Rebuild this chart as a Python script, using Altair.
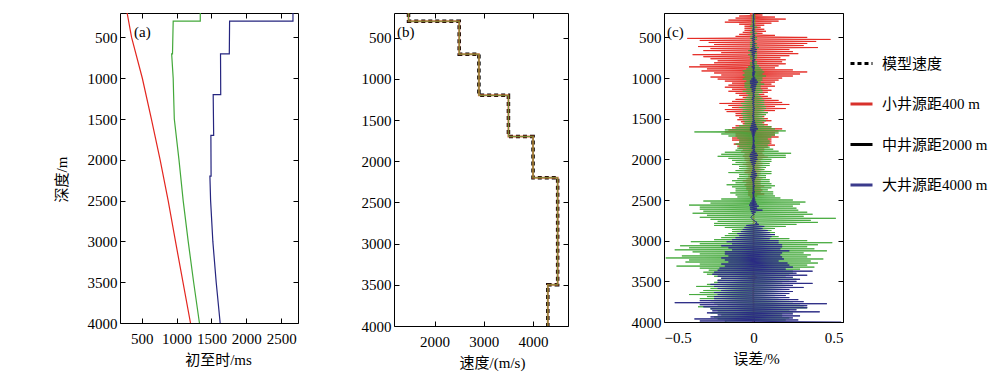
import altair as alt
import pandas as pd

FONT = "Liberation Serif, Times New Roman, DejaVu Serif, Noto Sans CJK SC"
FS = 15

# ---------------- panel (a): first-arrival times ----------------
a_red_depth = [200, 500, 1000, 1500, 2000, 2500, 3000, 3500, 4000]
a_red_time = [292, 356, 510, 640, 765, 880, 985, 1092, 1200]

a_green_depth = [200, 300, 300, 700, 700, 1000, 1200, 1500, 2000, 2500, 3000, 3500, 4000]
a_green_time = [1340, 1340, 952, 942, 930, 952, 958, 968, 1035, 1095, 1167, 1245, 1328]

a_blue_depth = [200, 300, 300, 700, 700, 1200, 1200, 1700, 1700, 2200, 2200, 2500, 3000, 3500, 4000]
a_blue_time = [2668, 2668, 1760, 1756, 1630, 1633, 1525, 1532, 1492, 1495, 1478, 1488, 1520, 1568, 1625]

# ---------------- panel (b): velocity model ----------------
b_top = [200, 300, 700, 1200, 1700, 2200, 3500]
b_bot = [300, 700, 1200, 1700, 2200, 3500, 4000]
b_vel = [1470, 2500, 2900, 3500, 4000, 4500, 4300]

# ---------------- panel (c): relative error (%) every 12.5 m ----------------
c_depth_start, c_depth_step = 200, 12.5
c_red = [
    0.00, -0.02, 0.05, -0.08, 0.12, -0.10, 0.18, -0.14,       # 200
    0.14, -0.16, 0.10, -0.08, 0.06, -0.05, 0.04, -0.05,       # 300
    0.06, -0.05, 0.07, -0.06, 0.05, -0.08, 0.12, -0.10,       # 400
    0.30, -0.37, 0.43, -0.30, 0.35, -0.25, 0.30, -0.22,       # 500
    0.28, -0.31, 0.36, -0.24, 0.20, -0.28, 0.22, -0.18,       # 600
    0.25, -0.34, 0.20, -0.28, 0.15, -0.24, 0.18, -0.20,       # 700
    0.16, -0.22, 0.18, -0.30, 0.14, -0.36, 0.12, -0.26,       # 800
    0.22, -0.29, 0.30, -0.22, 0.26, -0.18, 0.22, -0.24,       # 900
    0.16, -0.20, 0.14, -0.16, 0.12, -0.12, 0.10, -0.14,       # 1000
    0.12, -0.16, 0.08, -0.12, 0.10, -0.14, 0.08, -0.10,       # 1100
    0.06, -0.08, 0.08, -0.06, 0.10, -0.10, 0.14, -0.12,       # 1200
    0.16, -0.19, 0.20, -0.14, 0.12, -0.12, 0.18, -0.16,       # 1300
    0.12, -0.15, 0.08, -0.10, 0.06, -0.10, 0.06, -0.08,       # 1400
    0.08, -0.09, 0.10, -0.07, 0.06, -0.06, 0.08, -0.10,       # 1500
    0.10, -0.12, 0.16, -0.14, 0.14, -0.16, 0.12, -0.10,       # 1600
    0.12, -0.10, 0.14, -0.12, 0.10, -0.12, 0.10, -0.08,       # 1700
    0.10, -0.11, 0.12, -0.09, 0.08, -0.08, 0.06, -0.06,       # 1800
    0.06, -0.07, 0.05, -0.05, 0.06, -0.06, 0.08, -0.05,       # 1900
    0.05, -0.05, 0.04, -0.04, 0.05, -0.06, 0.05, -0.04,       # 2000
    0.04, -0.04, 0.06, -0.05, 0.04, -0.05, 0.04, -0.03,       # 2100
    0.03, -0.03, 0.05, -0.04, 0.04, -0.06, 0.04, -0.04,       # 2200
    0.04, -0.05, 0.06, -0.04, 0.04, -0.04, 0.05, -0.03,       # 2300
    0.04, -0.03, 0.06, -0.03, 0.02, -0.02, 0.01, -0.01,       # 2400
    0.005, -0.005, 0.005, -0.005, 0.005, -0.005, 0.005, -0.005,  # 2500
    0.005, -0.005, 0.005, -0.005, 0.005, -0.005, 0.005, -0.005,  # 2600
    0.005, -0.005, 0.005, -0.005, 0.005, -0.005, 0.005, -0.005,  # 2700
    0.005, -0.005, 0.005, -0.005, 0.005, -0.005, 0.005, -0.005,  # 2800
    0.005, -0.005, 0.005, -0.005, 0.005, -0.005, 0.005, -0.005,  # 2900
    0.005, -0.005, 0.005, -0.005, 0.005, -0.005, 0.005, -0.005,  # 3000
    0.005, -0.005, 0.005, -0.005, 0.005, -0.005, 0.005, -0.005,  # 3100
    0.005, -0.005, 0.005, -0.005, 0.005, -0.005, 0.005, -0.005,  # 3200
    0.005, -0.005, 0.005, -0.005, 0.005, -0.005, 0.005, -0.005,  # 3300
    0.005, -0.005, 0.01, -0.01, 0.02, -0.03, 0.01, -0.005,       # 3400
    0.005, -0.005, 0.005, -0.005, 0.005, -0.005, 0.005, -0.005,  # 3500
    0.005, -0.005, 0.005, -0.005, 0.005, -0.005, 0.005, -0.005,  # 3600
    0.005, -0.005, 0.005, -0.005, 0.005, -0.005, 0.005, -0.005,  # 3700
    0.005, -0.005, 0.005, -0.005, 0.005, -0.005, 0.005, -0.005,  # 3800
    0.005, -0.005, 0.005, -0.005, 0.005, -0.005, 0.005, -0.005,  # 3900
    0.00,                                                        # 4000
]
c_green = [
    0.00, -0.005, 0.01, -0.01, 0.01, -0.01, 0.01, -0.01,      # 200
    0.01, -0.01, 0.01, -0.01, 0.01, -0.02, 0.02, -0.01,       # 300
    0.01, -0.01, 0.01, -0.02, 0.02, -0.01, 0.01, -0.02,       # 400
    0.02, -0.02, 0.02, -0.01, 0.01, -0.02, 0.02, -0.02,       # 500
    0.02, -0.02, 0.03, -0.02, 0.02, -0.03, 0.02, -0.02,       # 600
    0.02, -0.03, 0.02, -0.02, 0.02, -0.02, 0.01, -0.01,       # 700
    0.02, -0.02, 0.02, -0.02, 0.03, -0.03, 0.04, -0.04,       # 800
    0.05, -0.06, 0.06, -0.05, 0.05, -0.06, 0.07, -0.05,       # 900
    0.05, -0.06, 0.05, -0.04, 0.04, -0.05, 0.06, -0.05,       # 1000
    0.04, -0.05, 0.04, -0.04, 0.05, -0.06, 0.05, -0.04,       # 1100
    0.03, -0.03, 0.04, -0.04, 0.05, -0.05, 0.06, -0.05,       # 1200
    0.06, -0.07, 0.06, -0.06, 0.07, -0.08, 0.07, -0.06,       # 1300
    0.06, -0.06, 0.08, -0.07, 0.07, -0.06, 0.05, -0.06,       # 1400
    0.06, -0.06, 0.07, -0.05, 0.05, -0.05, 0.06, -0.08,       # 1500
    0.10, -0.10, 0.12, -0.16, 0.18, -0.33, 0.14, -0.18,       # 1600
    0.12, -0.14, 0.10, -0.09, 0.08, -0.08, 0.09, -0.08,       # 1700
    0.09, -0.10, 0.08, -0.08, 0.09, -0.09, 0.11, -0.10,       # 1800
    0.14, -0.16, 0.21, -0.18, 0.18, -0.20, 0.18, -0.14,       # 1900
    0.10, -0.12, 0.10, -0.10, 0.09, -0.12, 0.09, -0.08,       # 2000
    0.07, -0.08, 0.06, -0.10, 0.10, -0.14, 0.10, -0.08,       # 2100
    0.07, -0.08, 0.07, -0.09, 0.09, -0.12, 0.09, -0.10,       # 2200
    0.10, -0.15, 0.12, -0.12, 0.10, -0.10, 0.08, -0.10,       # 2300
    0.11, -0.13, 0.11, -0.10, 0.12, -0.09, 0.15, -0.18,       # 2400
    0.22, -0.28, 0.29, -0.24, 0.26, -0.36, 0.22, -0.30,       # 2500
    0.24, -0.30, 0.25, -0.28, 0.30, -0.34, 0.33, -0.26,       # 2600
    0.28, -0.30, 0.46, -0.24, 0.32, -0.20, 0.36, -0.22,       # 2700
    0.24, -0.22, 0.18, -0.16, 0.12, -0.12, 0.10, -0.12,       # 2800
    0.12, -0.14, 0.12, -0.16, 0.14, -0.18, 0.20, -0.22,       # 2900
    0.30, -0.35, 0.44, -0.30, 0.36, -0.41, 0.30, -0.36,       # 3000
    0.34, -0.44, 0.41, -0.34, 0.28, -0.30, 0.32, -0.40,       # 3100
    0.30, -0.49, 0.39, -0.36, 0.32, -0.38, 0.36, -0.30,       # 3200
    0.30, -0.43, 0.34, -0.30, 0.26, -0.25, 0.22, -0.28,       # 3300
    0.22, -0.26, 0.20, -0.22, 0.18, -0.18, 0.24, -0.20,       # 3400
    0.20, -0.22, 0.16, -0.26, 0.20, -0.32, 0.18, -0.24,       # 3500
    0.16, -0.28, 0.14, -0.30, 0.16, -0.36, 0.12, -0.26,       # 3600
    0.14, -0.30, 0.20, -0.24, 0.22, -0.22, 0.26, -0.20,       # 3700
    0.28, -0.31, 0.30, -0.24, 0.20, -0.20, 0.22, -0.24,       # 3800
    0.16, -0.18, 0.16, -0.22, 0.20, -0.20, 0.18, -0.16,       # 3900
    -0.15,                                                    # 4000
]
c_blue = [
    0.00, -0.003, 0.003, -0.003, 0.003, -0.003, 0.005, -0.003,   # 200
    0.003, -0.005, 0.003, -0.003, 0.005, -0.005, 0.005, -0.003,  # 300
    0.005, -0.008, 0.005, -0.005, 0.005, -0.005, 0.008, -0.005,  # 400
    0.008, -0.01, 0.008, -0.008, 0.005, -0.005, 0.01, -0.008,    # 500
    0.008, -0.008, 0.01, -0.012, 0.018, -0.02, 0.015, -0.01,     # 600
    0.008, -0.01, 0.008, -0.005, 0.005, -0.005, 0.01, -0.008,    # 700
    0.005, -0.008, 0.005, -0.005, 0.008, -0.01, 0.008, -0.005,   # 800
    0.005, -0.005, 0.01, -0.008, 0.008, -0.008, 0.005, -0.005,   # 900
    0.01, -0.012, 0.018, -0.02, 0.025, -0.02, 0.018, -0.015,     # 1000
    0.015, -0.018, 0.012, -0.01, 0.01, -0.01, 0.008, -0.005,     # 1100
    0.005, -0.005, 0.008, -0.008, 0.005, -0.01, 0.005, -0.005,   # 1200
    0.005, -0.008, 0.005, -0.005, 0.005, -0.005, 0.008, -0.005,  # 1300
    0.005, -0.005, 0.005, -0.005, 0.005, -0.008, 0.005, -0.005,  # 1400
    0.005, -0.005, 0.008, -0.008, 0.01, -0.012, 0.015, -0.015,   # 1500
    0.018, -0.02, 0.025, -0.02, 0.015, -0.012, 0.01, -0.01,      # 1600
    0.008, -0.008, 0.005, -0.005, 0.005, -0.005, 0.008, -0.005,  # 1700
    0.005, -0.005, 0.008, -0.008, 0.01, -0.01, 0.008, -0.005,    # 1800
    0.01, -0.012, 0.018, -0.02, 0.025, -0.022, 0.02, -0.018,     # 1900
    0.022, -0.02, 0.015, -0.015, 0.012, -0.01, 0.008, -0.005,    # 2000
    0.005, -0.005, 0.008, -0.008, 0.012, -0.012, 0.018, -0.012,  # 2100
    0.02, -0.018, 0.012, -0.01, 0.008, -0.008, 0.005, -0.005,    # 2200
    0.005, -0.005, 0.008, -0.005, 0.005, -0.005, 0.005, -0.005,  # 2300
    0.008, -0.008, 0.005, -0.005, 0.005, -0.005, 0.008, -0.008,  # 2400
    0.01, -0.012, 0.015, -0.02, 0.02, -0.025, 0.03, -0.02,       # 2500
    0.02, -0.02, 0.05, -0.015, 0.012, -0.01, 0.005, -0.005,      # 2600
    -0.01, -0.015, -0.01, -0.005, 0.00, 0.01, 0.02, 0.01,        # 2700
    0.03, -0.04, 0.06, -0.05, 0.05, -0.06, 0.08, -0.07,          # 2800
    0.09, -0.09, 0.12, -0.08, 0.10, -0.10, 0.09, -0.12,          # 2900
    0.14, -0.15, 0.14, -0.12, 0.16, -0.18, 0.16, -0.14,          # 3000
    0.15, -0.12, 0.20, -0.16, 0.16, -0.16, 0.15, -0.14,          # 3100
    0.16, -0.18, 0.17, -0.16, 0.14, -0.14, 0.19, -0.18,          # 3200
    0.20, -0.16, 0.22, -0.19, 0.18, -0.20, 0.33, -0.22,          # 3300
    0.24, -0.23, 0.30, -0.20, 0.22, -0.18, 0.26, -0.20,          # 3400
    0.24, -0.20, 0.33, -0.24, 0.22, -0.22, 0.28, -0.20,          # 3500
    0.20, -0.18, 0.22, -0.22, 0.20, -0.20, 0.18, -0.22,          # 3600
    0.20, -0.22, 0.25, -0.30, 0.28, -0.44, 0.41, -0.30,          # 3700
    0.30, -0.28, 0.30, -0.24, 0.24, -0.23, 0.37, -0.26,          # 3800
    0.22, -0.20, 0.26, -0.24, 0.22, -0.33, 0.25, -0.30,          # 3900
    0.49,                                                        # 4000
]

legend_names = ["模型速度", "小井源距400 m", "中井源距2000 m", "大井源距4000 m"]
legend_colors = ["#000000", "#d8312b", "#000000", "#3b3b8c"]

y_ticks = [500, 1000, 1500, 2000, 2500, 3000, 3500, 4000]
a_x_ticks = [500, 1000, 1500, 2000, 2500]
b_x_ticks = [2000, 3000, 4000]
c_x_ticks = [-0.5, 0, 0.5]

RED, GREEN, BLUE = "#e3261f", "#43a83a", "#25257f"


def series_df(depths, vals):
    return pd.DataFrame({"depth": depths, "val": vals, "idx": list(range(len(depths)))})


def c_df(vals):
    depths = [c_depth_start + c_depth_step * i for i in range(len(vals))]
    return series_df(depths, vals)


def b_df():
    d, v = [], []
    for t, b, vel in zip(b_top, b_bot, b_vel):
        d += [t, b]
        v += [vel, vel]
    return series_df(d, v)


ys = alt.Scale(domain=[200, 4000], reverse=True, nice=False, zero=False)

common_lab = dict(labelFont=FONT, labelFontSize=FS, labelColor="black",
                  tickColor="black", tickWidth=1, domain=False, grid=False,
                  titleFont=FONT, titleFontSize=FS, titleColor="black",
                  titleFontWeight="normal")


def ax_left(title=None, titleY=None):
    kw = dict(orient="left", offset=-5, tickSize=5, values=y_ticks, format="d",
              labelPadding=3, minExtent=39, maxExtent=39, **common_lab)
    if title:
        kw.update(title=title, titlePadding=17, titleY=titleY)
    else:
        kw.update(title=None)
    return alt.Axis(**kw)


def ax_bottom(vals, title, titleX, fmt):
    return alt.Axis(orient="bottom", offset=-5, tickSize=5, values=vals, format=fmt,
                    labelPadding=8, title=title, titlePadding=6, titleX=titleX,
                    **common_lab)


def ax_right():
    return alt.Axis(orient="right", offset=-5, tickSize=5, values=y_ticks, labels=False,
                    title=None, tickColor="black", domain=False, grid=False,
                    minExtent=0, maxExtent=0)


def ax_top(vals):
    return alt.Axis(orient="top", offset=-5, tickSize=5, values=vals, labels=False,
                    title=None, tickColor="black", domain=False, grid=False,
                    minExtent=0, maxExtent=0)


def line(df, xs, color, width, axes=None, dash=None, opacity=None):
    mk = dict(color=color, strokeWidth=width, clip=True)
    if dash:
        mk["strokeDash"] = dash
    if opacity:
        mk["opacity"] = opacity
    if axes is None:
        xa, ya = None, None
    else:
        xa, ya = axes
    return alt.Chart(df).mark_line(**mk).encode(
        x=alt.X("val:Q", scale=xs, axis=xa),
        y=alt.Y("depth:Q", scale=ys, axis=ya),
        order=alt.Order("idx:Q"),
    )


def label(txt, x, y):
    return alt.Chart(pd.DataFrame({"t": [txt]})).mark_text(
        font=FONT, fontSize=FS, align="left", baseline="middle", color="black"
    ).encode(x=alt.value(x), y=alt.value(y), text="t:N")


# panel a
xs_a = alt.Scale(domain=[190, 2740], nice=False, zero=False)
pa = alt.layer(
    line(series_df(a_red_depth, a_red_time), xs_a, RED, 1.2,
         (ax_bottom(a_x_ticks, "初至时/ms", 98, "d"), ax_left("深度/m", 166))),
    line(series_df(a_green_depth, a_green_time), xs_a, GREEN, 1.2,
         (ax_top(a_x_ticks), ax_right())),
    line(series_df(a_blue_depth, a_blue_time), xs_a, BLUE, 1.2),
    label("(a)", 14, 19),
).resolve_axis(x="independent", y="independent").properties(width=178, height=310)

# panel b
xs_b = alt.Scale(domain=[1175, 4710], nice=False, zero=False)
bd = b_df()
pb = alt.layer(
    line(bd, xs_b, "#000000", 3.5,
         (ax_bottom(b_x_ticks, "速度/(m/s)", 98, "d"), ax_left()), dash=[4, 3]),
    line(bd, xs_b, "#d9602f", 2.0, (ax_top(b_x_ticks), ax_right()), opacity=0.85),
    line(bd, xs_b, "#5a9a3a", 1.0, opacity=0.8),
    label("(b)", 3, 19),
).resolve_axis(x="independent", y="independent").properties(width=174, height=313)

# panel c
xs_c = alt.Scale(domain=[-0.5, 0.5], nice=False, zero=False)
leg_df = pd.DataFrame({"s": legend_names, "val": [0, 0, 0, 0], "depth": [200, 200, 200, 200]})
leg_kw = dict(orient="none", legendX=185, legendY=38, title=None, labelFont=FONT,
              labelFontSize=FS, labelColor="black", symbolType="stroke",
              symbolSize=484, symbolStrokeWidth=3, rowPadding=19.5, labelOffset=8,
              padding=0)
legend_layer = alt.Chart(leg_df).mark_line(strokeWidth=3).encode(
    x=alt.X("val:Q", scale=xs_c, axis=None),
    y=alt.Y("depth:Q", scale=ys, axis=None),
    color=alt.Color("s:N", scale=alt.Scale(domain=legend_names, range=legend_colors),
                    legend=alt.Legend(**leg_kw)),
    strokeDash=alt.StrokeDash("s:N", scale=alt.Scale(domain=legend_names,
                                                     range=[[4, 3], [1, 0], [1, 0], [1, 0]]),
                              legend=alt.Legend(**leg_kw)),
)
pc = alt.layer(
    line(c_df(c_red), xs_c, RED, 0.9,
         (ax_bottom(c_x_ticks, "误差/%", 92, "~g"), ax_left())),
    line(c_df(c_green), xs_c, GREEN, 0.9, (ax_top(c_x_ticks), ax_right())),
    line(c_df(c_blue), xs_c, "#2b2b85", 1.0),
    legend_layer,
    label("(c)", 3, 19),
).resolve_axis(x="independent", y="independent").properties(width=179, height=309)

chart = alt.hconcat(pa, pb, pc, spacing=60).resolve_scale(
    color="independent", strokeDash="independent"
).properties(
    padding={"left": 45, "top": -2, "right": 0, "bottom": 5}
).configure(font=FONT).configure_axis(labelFont=FONT, titleFont=FONT).configure_view(
    stroke="black", strokeWidth=1
)

chart.save("out.html", embed_options={"renderer": "svg", "actions": False})
